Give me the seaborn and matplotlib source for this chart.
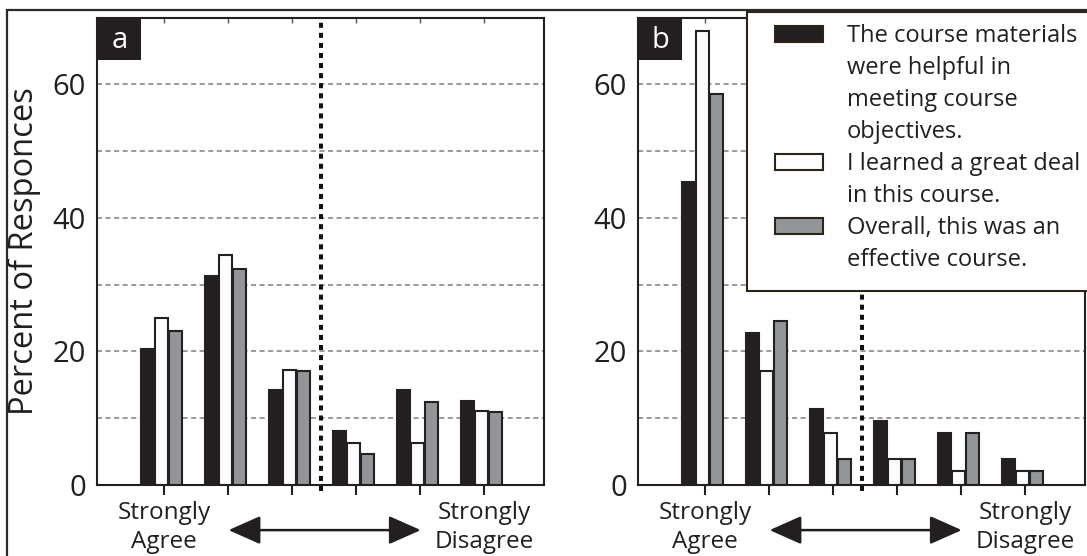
import numpy as np
import pandas as pd
import matplotlib
matplotlib.use("Agg")
import matplotlib.pyplot as plt
import seaborn as sns
from matplotlib.patches import Rectangle, Patch

# ---------------- data ----------------
levels = ["Strongly Agree", "Agree", "Somewhat Agree",
          "Somewhat Disagree", "Disagree", "Strongly Disagree"]
items = ["materials", "learned", "effective"]
legend_lines = [["The course materials", "were helpful in", "meeting course", "objectives."],
                ["I learned a great deal", "in this course."],
                ["Overall, this was an", "effective course."]]

panel_a_materials = [20.4, 31.3, 14.2, 8.0, 14.2, 12.6]
panel_a_learned = [25.0, 34.5, 17.2, 6.3, 6.3, 11.0]
panel_a_effective = [23.1, 32.3, 17.0, 4.6, 12.4, 10.9]

panel_b_materials = [45.4, 22.7, 11.4, 9.5, 7.7, 3.8]
panel_b_learned = [68.0, 17.0, 7.7, 3.8, 2.0, 2.0]
panel_b_effective = [58.6, 24.6, 3.8, 3.8, 7.7, 2.0]

yticks = [0, 10, 20, 30, 40, 50, 60]
ytick_labels = ["0", "", "20", "", "40", "", "60"]
xtick_labels = ["Strongly\nAgree", "", "", "", "", "Strongly\nDisagree"]
panel_letters = ["a", "b"]
ylabel = "Percent of Responces"

fill_colors = ["#231f20", "#fdfdfd", "#939598"]
edge_color = "#252122"

# ---------------- style ----------------
sns.set_theme(style="white")
plt.rcParams["font.family"] = ["Open Sans", "DejaVu Sans"]

W, H = 1087, 556
fig = plt.figure(figsize=(W / 100, H / 100), dpi=100)


def fx(px):
    return px / W


def fy(py):
    return 1 - py / H


ax_top, ax_bot = 17.7, 484.8
ax_w = 447
axes = [fig.add_axes([fx(97.3), fy(ax_bot), fx(ax_w), (ax_bot - ax_top) / H]),
        fig.add_axes([fx(638.3), fy(ax_bot), fx(ax_w), (ax_bot - ax_top) / H])]

panels = [
    [panel_a_materials, panel_a_learned, panel_a_effective],
    [panel_b_materials, panel_b_learned, panel_b_effective],
]

for i, (ax, series) in enumerate(zip(axes, panels)):
    df = pd.DataFrame({
        "level": levels * 3,
        "item": sum([[it] * len(levels) for it in items], []),
        "pct": series[0] + series[1] + series[2],
    })
    sns.barplot(data=df, x="level", y="pct", hue="item", order=levels,
                hue_order=items, palette=fill_colors, saturation=1,
                width=0.66, gap=0.08, edgecolor=edge_color, linewidth=1.5,
                errorbar=None, legend=False, ax=ax, zorder=3)

    ax.set_xlim(-1.0, 5.98)
    ax.set_ylim(0, 70)
    ax.set_xlabel("")
    ax.set_ylabel("")

    # x ticks
    tickpos = [k + 0.04 for k in range(len(levels))]
    ax.set_xticks(tickpos)
    ax.set_xticklabels(xtick_labels, fontsize=17.5, linespacing=1.3,
                       color="#231f20")
    ax.tick_params(axis="x", direction="out", length=7.5, width=1.5,
                   color="#231f20", pad=4, bottom=True)
    top = ax.secondary_xaxis("top")
    top.set_xticks(tickpos)
    top.set_xticklabels([])
    top.tick_params(direction="in", length=3.5, width=1.0, color="#555555")
    top.spines["top"].set_visible(False)

    # y ticks / grid
    ax.set_yticks(yticks)
    ax.set_yticklabels(ytick_labels, fontsize=21, color="#231f20")
    ax.tick_params(axis="y", length=0, pad=8)
    ax.set_axisbelow(True)
    ax.yaxis.grid(True, color="#9a9a9a", linewidth=1.4,
                  linestyle=(0, (2.6, 1.8)))
    ax.xaxis.grid(False)

    for sp in ax.spines.values():
        sp.set_visible(True)
        sp.set_color("#231f20")
        sp.set_linewidth(1.5)

    # dotted divider between agree / disagree halves
    ax.plot([2.5, 2.5], [-0.9, 70], color="#111111", lw=2.9,
            linestyle=(0, (1.25, 1.25)), dash_capstyle="butt",
            clip_on=False, zorder=4)

    # double arrow under the axis
    trans = ax.get_xaxis_transform()
    ax.annotate("", xy=(4.05, -0.097), xytext=(1.05, -0.097),
                xycoords=trans, textcoords=trans,
                arrowprops=dict(arrowstyle="<|-|>,head_length=0.9,head_width=0.4",
                                mutation_scale=22, lw=1.8, color="#231f20",
                                shrinkA=0, shrinkB=0),
                annotation_clip=False)

    # panel letter box
    ax.add_patch(Rectangle((0, 1), 44 / ax_w, -42 / (ax_bot - ax_top),
                           transform=ax.transAxes, facecolor="#231f20",
                           edgecolor="none", zorder=6, clip_on=False))
    ax.text(22 / ax_w, 1 - 23 / (ax_bot - ax_top), panel_letters[i],
            transform=ax.transAxes, color="white", ha="center", va="center",
            fontsize=21, zorder=7)

axes[0].set_ylabel(ylabel, fontsize=23.5, color="#231f20")
axes[0].yaxis.set_label_coords(-(97.3 - 41) / ax_w, 0.5)

# ---------------- legend ----------------
ax_b = axes[1]
frame = Rectangle((fx(746.5), fy(291)), fx(1100 - 746.5), (291 - 12) / H,
                  transform=fig.transFigure, facecolor="white",
                  edgecolor="#2b2418", lw=1.5, zorder=10, clip_on=False)
ax_b.add_artist(frame)

handles, labels = [], []
for color, lines in zip(fill_colors, legend_lines):
    for j, line in enumerate(lines):
        if j == 0:
            handles.append(Patch(facecolor=color, edgecolor="#2b2418", lw=1.5))
        else:
            handles.append(Patch(facecolor="none", edgecolor="none"))
        labels.append(line)

fs = 17
fs_px = fs * 100 / 72
leg = ax_b.legend(handles, labels, loc="upper left",
                  bbox_to_anchor=(fx(775), fy(24)),
                  bbox_transform=fig.transFigure, frameon=False,
                  borderpad=0, borderaxespad=0,
                  handlelength=48 / fs_px, handleheight=16 / fs_px,
                  handletextpad=24 / fs_px, labelspacing=0.34,
                  prop={"size": fs})
leg.set_zorder(11)
for t in leg.get_texts():
    t.set_color("#231f20")

# outer frame
fig.add_artist(Rectangle((fx(6.7), -0.1), 1.2, fy(9.5) + 0.1,
                         transform=fig.transFigure, fill=False,
                         edgecolor="#2a2a2a", lw=1.6))

fig.savefig("out.png", dpi=100)
